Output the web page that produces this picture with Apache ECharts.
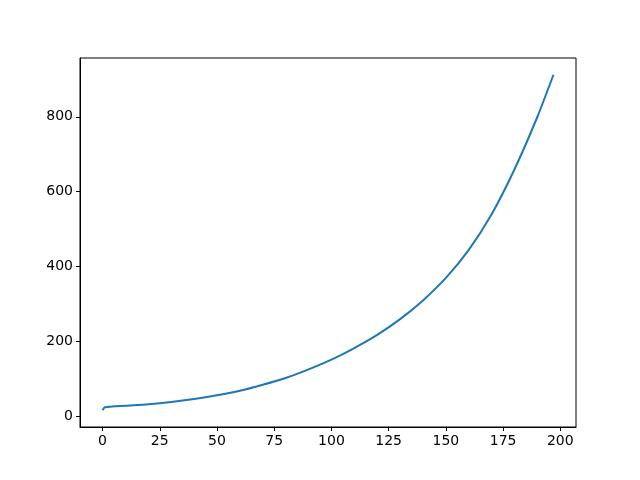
<!DOCTYPE html>
<html>
<head>
<meta charset="utf-8">
<script src="https://cdn.jsdelivr.net/npm/echarts@6/dist/echarts.min.js"></script>
<style>
  html, body { margin: 0; padding: 0; background: #fff; }
  #chart { width: 640px; height: 480px; }
</style>
</head>
<body>
<div id="chart"></div>
<script>
// values
const xs = [0, 1, 10, 20, 30, 40, 50, 60, 70, 80, 90, 100, 110, 120, 130, 140, 150, 160, 170, 180, 190, 197];
const ys = [17, 25, 29, 33, 39, 47, 57, 69, 85, 103, 126, 152, 183, 218, 260, 310, 370, 445, 540, 660, 800, 912];
const xTicks = [0, 25, 50, 75, 100, 125, 150, 175, 200];
const yTicks = [0, 200, 400, 600, 800];

const chart = echarts.init(document.getElementById('chart'));

const tickFont = { color: '#000', fontFamily: 'DejaVu Sans', fontSize: 14 };

chart.setOption({
  animation: false,
  grid: {
    left: 80, right: 64, top: 58, bottom: 53,
    show: true, borderColor: '#000', borderWidth: 1
  },
  xAxis: {
    type: 'value',
    min: -9.85,
    max: 206.85,
    splitLine: { show: false },
    axisLine: { show: true, onZero: false, lineStyle: { color: '#000' } },
    axisTick: { show: true, length: 4, customValues: xTicks, lineStyle: { color: '#000' } },
    axisLabel: Object.assign({ customValues: xTicks, margin: 7 }, tickFont)
  },
  yAxis: {
    type: 'value',
    min: -27.75,
    max: 956.75,
    splitLine: { show: false },
    axisLine: { show: true, onZero: false, lineStyle: { color: '#000' } },
    axisTick: { show: true, length: 4, customValues: yTicks, lineStyle: { color: '#000' } },
    axisLabel: Object.assign({ customValues: yTicks, margin: 7 }, tickFont)
  },
  series: [
    {
      type: 'line',
      data: xs.map((x, i) => [x, ys[i]]),
      showSymbol: false,
      smooth: 0.2,
      lineStyle: { color: '#1f77b4', width: 2 }
    }
  ]
});
</script>
</body>
</html>
